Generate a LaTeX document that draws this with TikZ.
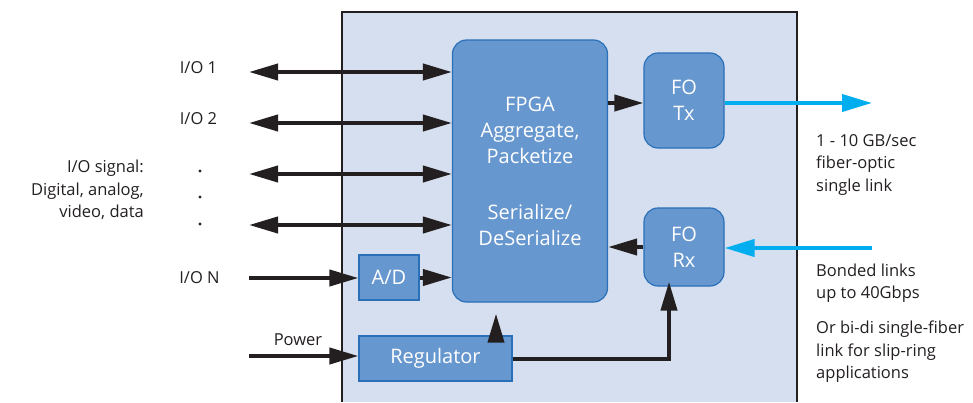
\documentclass[tikz,border=0pt]{standalone}
\usepackage{fontspec}
\setmainfont{Open Sans}
\usetikzlibrary{arrows.meta}
\definecolor{panel}{HTML}{D5DFEF}
\definecolor{boxfill}{HTML}{6797CF}
\definecolor{boxline}{HTML}{2A70B8}
\definecolor{fiber}{HTML}{00AEEF}
\definecolor{ink}{HTML}{231F20}
\tikzset{
  blk/.style={draw=boxline, line width=1.2pt, fill=boxfill, text=white, align=center, inner sep=0pt, font=\fontsize{20}{26}\selectfont},
  rblk/.style={blk, rounded corners=14pt},
  lbl/.style={text=ink, font=\fontsize{16.5}{22.5}\selectfont, inner sep=0pt},
  dotn/.style={circle, fill=ink, inner sep=0pt, minimum size=3.4pt},
  sig/.style={draw=ink, line width=4pt, -{Triangle[length=29pt,width=16pt]}},
  bisig/.style={draw=ink, line width=4pt, {Triangle[length=29pt,width=16pt]}-{Triangle[length=29pt,width=16pt]}},
  fib/.style={draw=fiber, line width=4pt, -{Triangle[length=30pt,width=17pt]}}
}
\begin{document}
\begin{tikzpicture}[x=1pt,y=-1pt]
\useasboundingbox (0,0) rectangle (973,402);
\fill[panel] (342,12) rectangle (797,402);
\draw[ink, line width=1.2pt] (342,402) -- (342,12) -- (797,12) -- (797,402);

\node[rblk, minimum width=155pt, minimum height=262pt] (fpga) at (530,171) {FPGA\\Aggregate,\\Packetize\\[30pt]Serialize/\\DeSerialize};
\node[rblk, minimum width=80pt, minimum height=95pt] (tx) at (684,100.5) {FO\\Tx};
\node[rblk, minimum width=80pt, minimum height=78pt] (rx) at (684,247) {FO\\Rx};
\node[blk, minimum width=60pt, minimum height=45pt] (ad) at (389,277.5) {A/D};
\node[blk, minimum width=153pt, minimum height=45pt] (reg) at (435.5,358.5) {Regulator};

% left endpoints
\coordinate (e1) at (249,72);
\coordinate (e2) at (249,123);
\coordinate (e3) at (249,174);
\coordinate (e4) at (249,225);
\coordinate (eN) at (249,278);
\coordinate (eP) at (249,356);
\coordinate (o1) at (872,103);
\coordinate (i1) at (872,248);

\draw[bisig] (e1) -- (e1 -| fpga.west);
\draw[bisig] (e2) -- (e2 -| fpga.west);
\draw[bisig] (e3) -- (e3 -| fpga.west);
\draw[bisig] (e4) -- (e4 -| fpga.west);
\draw[sig] (eN) -- (eN -| ad.west);
\draw[sig] (ad.east) -- (ad.east -| fpga.west);
\draw[sig] (eP) -- (eP -| reg.west);
\draw[sig] (fpga.east |- 0,103) -- (tx.west |- 0,103);
\draw[sig] (rx.west |- 0,247) -- (fpga.east |- 0,247);
\draw[sig] (reg.north -| 496,0) -- ([yshift=-11pt]fpga.south -| 496,0);
\draw[draw=ink, line width=4pt, -{Triangle[length=29pt,width=16pt]}, line join=miter] (reg.east) -- (reg.east -| 669,0) -- ([yshift=5pt]rx.south -| 669,0);
\draw[fib] (tx.east |- o1) -- (o1);
\draw[fib] (i1) -- (i1 -| rx.east);

% labels
\node[lbl] (t1) at (198.5,68) {I/O 1};
\node[lbl] (t2) at (198.5,119) {I/O 2};
\node[lbl] (tN) at (199.5,278) {I/O N};
\node[lbl] (tp) at (298,340) {Power};
\node[dotn] (d1) at (200,171) {};
\node[dotn] (d2) at (200,197) {};
\node[dotn] (d3) at (200,224) {};
\node[lbl, align=right, anchor=east] (sig) at (144,190) {I/O signal:\\Digital, analog,\\video, data};
\node[lbl, align=left, anchor=west] (r1) at (816,164.5) {1 - 10 GB/sec\\fiber-optic\\single link};
\node[lbl, align=left, anchor=west] (r2) at (816,283) {Bonded links\\up to 40Gbps};
\node[lbl, align=left, anchor=west] (r3) at (816,352) {Or bi-di single-fiber\\link for slip-ring\\applications};
\end{tikzpicture}
\end{document}
